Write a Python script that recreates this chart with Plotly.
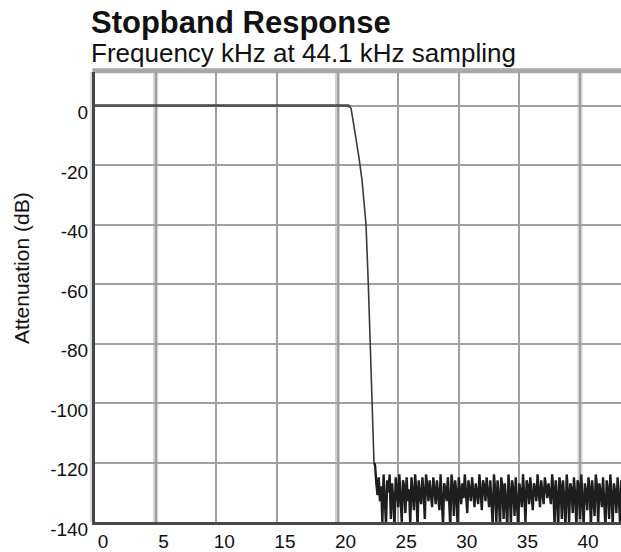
import plotly.graph_objects as go

# ---- data ----
pass_freq = [0, 20.9, 21.03, 21.12, 21.28, 21.53, 21.77, 22.02, 22.19, 22.35, 22.54, 22.68, 22.87, 23.01]
pass_db = [0, 0, -0.5, -1, -5, -11, -17.5, -25, -32, -40, -60, -80, -100, -120]

stop_start = 23.1
stop_step = 0.1
stop_db = [
    -121, -127, -131, -125, -133, -128, -140, -124, -132, -141,
    -126, -130, -124, -139, -127, -132, -142, -125, -129, -135,
    -124, -131, -140, -126, -128, -137, -125, -133, -129, -141,
    -125, -130, -136, -124, -129, -142, -126, -131, -134, -125,
    -130, -139, -124, -128, -133, -126, -131, -135, -125, -129,
    -134, -126, -130, -136, -124, -131, -141, -127, -129, -133,
    -125, -132, -142, -124, -128, -138, -126, -130, -141, -125,
    -129, -134, -127, -132, -124, -130, -137, -126, -131, -133,
    -125, -129, -135, -127, -130, -134, -124, -131, -136, -126,
    -128, -133, -125, -130, -135, -126, -132, -141, -124, -129,
    -140, -126, -131, -142, -125, -128, -139, -127, -133, -142,
    -124, -130, -141, -126, -129, -138, -125, -132, -142, -127,
    -130, -135, -124, -131, -140, -126, -128, -134, -125, -131,
    -136, -127, -129, -133, -124, -130, -135, -126, -131, -134,
    -125, -128, -132, -127, -130, -134, -124, -129, -141, -126,
    -131, -142, -125, -128, -139, -126, -132, -142, -124, -130,
    -140, -127, -129, -137, -125, -131, -142, -126, -128, -139,
    -124, -132, -141, -127, -130, -136, -125, -129, -142, -126,
    -131, -138, -124, -128, -141, -127, -130, -135, -125, -132,
    -142, -126, -129, -139, -124, -131, -141, -127, -130, -137,
    -125, -132, -140, -126,
]
stop_freq = [round(stop_start + i * stop_step, 2) for i in range(len(stop_db))]

x_ticks = [0, 5, 10, 15, 20, 25, 30, 35, 40]
y_ticks = [0, -20, -40, -60, -80, -100, -120, -140]
light_grid_x = [5, 20, 40]

title_text = "Stopband Response"
subtitle_text = "Frequency kHz at 44.1 kHz sampling"
y_title = "Attenuation (dB)"

FONT = "Liberation Sans, Arial, sans-serif"

fig = go.Figure()

# passband + transition band
fig.add_trace(go.Scatter(
    x=pass_freq, y=pass_db,
    mode="lines", line=dict(color="#3a3a3a", width=1.6),
    showlegend=False, hoverinfo="skip",
))
# flat passband drawn heavier, as in the reference
fig.add_trace(go.Scatter(
    x=pass_freq[:3], y=pass_db[:3],
    mode="lines", line=dict(color="#505050", width=2.5),
    showlegend=False, hoverinfo="skip",
))
# stopband ripple (joined to the end of the transition)
fig.add_trace(go.Scatter(
    x=pass_freq[-1:] + stop_freq, y=pass_db[-1:] + stop_db,
    mode="lines", line=dict(color="#1e1e1e", width=2.4),
    showlegend=False, hoverinfo="skip",
))

shapes = []
for gx in light_grid_x:
    shapes.append(dict(type="line", xref="x", yref="paper", x0=gx, x1=gx, y0=0, y1=1,
                       line=dict(color="#d2d2d2", width=5), layer="below"))
# top frame bar
shapes.append(dict(type="line", xref="paper", yref="paper", x0=-0.005, x1=1, y0=1.003, y1=1.003,
                   line=dict(color="#a8a8a8", width=5), layer="below"))
# light strip left of y axis
shapes.append(dict(type="line", xref="paper", yref="paper", x0=-0.007, x1=-0.007, y0=0, y1=1,
                   line=dict(color="#dddddd", width=3), layer="below"))

heading = ("<span style='font-size:31px;font-weight:bold'>" + title_text + "</span><br>"
           "<span style='font-size:26px'>" + subtitle_text + "</span>")

fig.update_layout(
    width=621, height=552,
    margin=dict(l=95, r=0, t=72, b=24),
    paper_bgcolor="white", plot_bgcolor="white",
    font=dict(family=FONT, color="#111111", size=19),
    shapes=shapes,
    annotations=[
        dict(text=heading, xref="paper", yref="paper",
             x=-0.011, y=1.078, xanchor="left", yanchor="middle", align="left",
             showarrow=False, font=dict(size=22, family=FONT, color="#111111")),
        dict(text=y_title, xref="paper", yref="paper",
             x=-0.14, y=0.565, xanchor="center", yanchor="middle", textangle=-90,
             showarrow=False, font=dict(size=21, family=FONT, color="#111111")),
    ],
)

fig.update_xaxes(
    range=[0, 43.38], tickvals=x_ticks, ticktext=[str(v) for v in x_ticks],
    showgrid=True, gridcolor="#a0a0a0", gridwidth=2,
    zeroline=False, showline=True, linecolor="#484848", linewidth=3,
    ticks="", ticklabelshift=8, tickfont=dict(size=19),
)
fig.update_yaxes(
    range=[-140, 11.3], tickvals=y_ticks, ticktext=[str(v) for v in y_ticks],
    showgrid=True, gridcolor="#a0a0a0", gridwidth=2,
    zeroline=False, showline=True, linecolor="#484848", linewidth=3,
    ticks="", ticklabelshift=7, tickfont=dict(size=19),
)

fig.write_html(
    "out.html",
    config={"displayModeBar": False},
    post_script="document.body.style.margin='0';document.body.style.overflow='hidden';",
)
